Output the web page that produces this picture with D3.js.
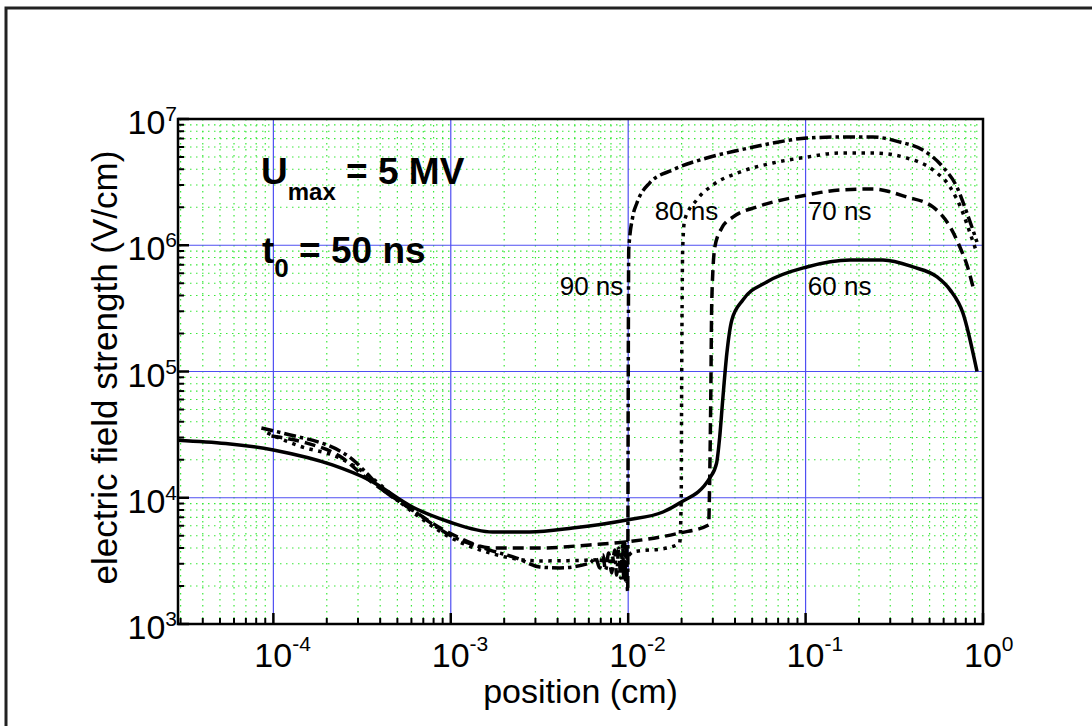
<!DOCTYPE html>
<html>
<head>
<meta charset="utf-8">
<script src="https://cdn.jsdelivr.net/npm/d3@7"></script>
<style>
  html, body { margin: 0; padding: 0; background: #fff; }
  svg { display: block; font-family: "Liberation Sans", Arial, sans-serif; }
</style>
</head>
<body>
<svg id="chart" width="1092" height="726"></svg>
<script>
// Electric field strength profiles along the gap, t0 = 50 ns, Umax = 5 MV

// 60 ns (solid)
const pos60 = [2.9e-5, 1e-4, 2.15e-4, 3.48e-4, 6.08e-4, 9.84e-4, 1.72e-3, 2.78e-3, 4.86e-3, 9.82e-3,
  1.57e-2, 1.95e-2, 2.88e-2, 3.15e-2, 3.28e-2, 3.41e-2, 3.60e-2, 3.84e-2, 4.43e-2, 6.04e-2,
  0.1016, 0.178, 0.273, 0.403, 0.551, 0.652, 0.771, 0.925];
const field60 = [2.86e4, 2.39e4, 1.82e4, 1.38e4, 8.45e3, 6.43e3, 5.36e3, 5.36e3, 5.75e3, 6.67e3,
  7.71e3, 9.08e3, 1.43e4, 1.88e4, 3.03e4, 5.94e4, 1.40e5, 2.56e5, 3.68e5, 5.12e5,
  6.73e5, 7.64e5, 7.64e5, 6.73e5, 5.61e5, 4.43e5, 2.90e5, 1.0e5];

// 70 ns (dashed)
const pos70 = [9.75e-5, 1.53e-4, 2.36e-4, 3.35e-4, 6.08e-4, 9.84e-4, 1.72e-3, 3.17e-3, 6.07e-3, 9.82e-3,
  1.95e-2, 2.84e-2, 2.88e-2, 2.92e-2, 2.96e-2, 3.08e-2, 3.37e-2, 3.89e-2, 5.31e-2, 0.102,
  0.156, 0.239, 0.372, 0.522, 0.652, 0.741, 0.812, 0.879];
const field70 = [3.08e4, 2.72e4, 2.14e4, 1.43e4, 8.0e3, 5.26e3, 4.0e3, 4.0e3, 4.23e3, 4.47e3,
  5.26e3, 6.08e3, 1.38e4, 5.94e4, 3.68e5, 9.68e5, 1.37e6, 1.67e6, 2.01e6, 2.50e6,
  2.74e6, 2.79e6, 2.41e6, 2.01e6, 1.40e6, 9.68e5, 6.98e5, 4.67e5];

// 80 ns (dotted)
const pos80 = [9.25e-5, 1.40e-4, 2.36e-4, 3.35e-4, 6.08e-4, 9.84e-4, 1.66e-3, 3.17e-3, 6.07e-3, 8.39e-3,
  9.93e-3, 1.06e-2, 1.65e-2, 1.95e-2, 1.99e-2, 2.00e-2, 2.03e-2, 2.08e-2, 2.43e-2, 3.00e-2,
  4.26e-2, 6.53e-2, 0.102, 0.156, 0.239, 0.372, 0.522, 0.652, 0.771, 0.845, 0.912];
const field80 = [3.26e4, 2.57e4, 2.07e4, 1.54e4, 7.71e3, 4.89e3, 3.65e3, 3.16e3, 3.21e3, 3.33e3,
  3.46e3, 3.72e3, 4.0e3, 4.38e3, 9.6e3, 5.94e4, 9.68e5, 1.58e6, 2.28e6, 3.0e6,
  3.8e6, 4.48e6, 5.0e6, 5.38e6, 5.38e6, 4.91e6, 3.95e6, 2.89e6, 1.80e6, 1.25e6, 9.17e5];

// 90 ns (dash-dot), including the oscillations just ahead of the front near 0.01 cm
const pos90 = [8.56e-5, 1.12e-4, 2.69e-4, 3.35e-4, 3.97e-4, 6.08e-4, 9.84e-4, 1.66e-3, 2.35e-3, 3.17e-3,
  4.11e-3, 6.07e-3, 6.56e-3, 6.91e-3, 7.18e-3, 7.46e-3, 7.76e-3, 8.07e-3, 8.39e-3, 8.61e-3,
  8.84e-3, 9.07e-3, 9.31e-3, 9.44e-3, 9.55e-3, 9.69e-3, 9.82e-3, 9.87e-3, 9.94e-3, 1.0e-2,
  1.007e-2, 1.06e-2, 1.12e-2, 1.32e-2, 1.78e-2, 2.77e-2, 4.26e-2, 6.53e-2, 0.1016, 0.156,
  0.239, 0.340, 0.458, 0.594, 0.713, 0.812, 0.925];
const field90 = [3.57e4, 3.26e4, 2.10e4, 1.57e4, 1.22e4, 8.0e3, 5.07e3, 3.85e3, 3.33e3, 2.83e3,
  2.78e3, 3.04e3, 3.33e3, 2.78e3, 3.53e3, 2.68e3, 3.65e3, 2.54e3, 3.85e3, 2.44e3,
  4.0e3, 2.31e3, 4.23e3, 2.23e3, 4.38e3, 2.11e3, 4.54e3, 2.0e3, 1.82e3, 5.94e4,
  9.17e5, 1.67e6, 2.16e6, 3.11e6, 3.95e6, 4.91e6, 5.68e6, 6.45e6, 7.07e6, 7.20e6,
  7.20e6, 6.57e6, 5.68e6, 4.17e6, 2.89e6, 1.80e6, 1.06e6];

const xTickExps = [-4, -3, -2, -1, 0];
const yTickExps = [3, 4, 5, 6, 7];

const svg = d3.select("#chart");
const plot = { left: 178, top: 119, right: 983, bottom: 624 };

const x = d3.scaleLog().domain([2.9e-5, 1]).range([plot.left, plot.right]);
const y = d3.scaleLog().domain([1e3, 1e7]).range([plot.bottom, plot.top]);

// outer frame (runs past the right and bottom edges)
svg.append("rect").attr("x", 6).attr("y", 8).attr("width", 1200).attr("height", 900)
  .attr("fill", "#fff").attr("stroke", "#222").attr("stroke-width", 3);

// 2..9 multiples inside the domain, for minor grid and ticks
function minors(scale) {
  const [a, b] = scale.domain();
  const out = [];
  for (let e = Math.floor(Math.log10(a)); e <= Math.ceil(Math.log10(b)); e++) {
    for (let k = 2; k <= 9; k++) {
      const v = k * Math.pow(10, e);
      if (v >= a && v <= b) out.push(v);
    }
  }
  return out;
}
const xMinor = minors(x), yMinor = minors(y);
const xMajor = xTickExps.map(e => Math.pow(10, e));
const yMajor = yTickExps.map(e => Math.pow(10, e));

const grid = svg.append("g");
const minorStyle = sel => sel.attr("stroke", "#3ae83a").attr("stroke-width", 1.2).attr("stroke-dasharray", "1.5,4.5");
grid.append("g").selectAll("line").data(xMinor).join("line")
  .attr("x1", d => x(d)).attr("x2", d => x(d)).attr("y1", plot.top).attr("y2", plot.bottom)
  .call(minorStyle);
grid.append("g").selectAll("line").data(yMinor).join("line")
  .attr("y1", d => y(d)).attr("y2", d => y(d)).attr("x1", plot.left).attr("x2", plot.right)
  .call(minorStyle);
grid.append("g").selectAll("line").data(xMajor.filter(v => v < 1)).join("line")
  .attr("x1", d => x(d)).attr("x2", d => x(d)).attr("y1", plot.top).attr("y2", plot.bottom)
  .attr("stroke", "#4f4ff2").attr("stroke-width", 1.2);
grid.append("g").selectAll("line").data(yMajor.filter(v => v > 1e3 && v < 1e7)).join("line")
  .attr("y1", d => y(d)).attr("y2", d => y(d)).attr("x1", plot.left).attr("x2", plot.right)
  .attr("stroke", "#4f4ff2").attr("stroke-width", 1.2);

// curves
const line = d3.line().x(d => x(d[0])).y(d => y(d[1])).curve(d3.curveMonotoneX);
const series = [
  { pos: pos60, field: field60, dash: null },
  { pos: pos70, field: field70, dash: "11,6" },
  { pos: pos80, field: field80, dash: "3.5,5.5" },
  { pos: pos90, field: field90, dash: "12,4,3.5,4" }
];
svg.append("g").selectAll("path").data(series).join("path")
  .attr("d", s => line(s.pos.map((p, i) => [p, s.field[i]])))
  .attr("fill", "none").attr("stroke", "#000").attr("stroke-width", 3.5)
  .attr("stroke-linejoin", "round")
  .attr("stroke-dasharray", s => s.dash);

// axes: ticks point inward
const ax = svg.append("g").attr("stroke", "#000");
ax.append("g").selectAll("line").data(xMinor).join("line")
  .attr("x1", d => x(d)).attr("x2", d => x(d)).attr("y1", plot.bottom).attr("y2", plot.bottom - 6)
  .attr("stroke-width", 2);
ax.append("g").selectAll("line").data(xMajor).join("line")
  .attr("x1", d => x(d)).attr("x2", d => x(d)).attr("y1", plot.bottom).attr("y2", plot.bottom - 11)
  .attr("stroke-width", 2.5);
ax.append("g").selectAll("line").data(yMinor).join("line")
  .attr("y1", d => y(d)).attr("y2", d => y(d)).attr("x1", plot.left).attr("x2", plot.left + 6)
  .attr("stroke-width", 2);
ax.append("g").selectAll("line").data(yMajor).join("line")
  .attr("y1", d => y(d)).attr("y2", d => y(d)).attr("x1", plot.left).attr("x2", plot.left + 11)
  .attr("stroke-width", 2.5);
svg.append("rect").attr("x", plot.left).attr("y", plot.top)
  .attr("width", plot.right - plot.left).attr("height", plot.bottom - plot.top)
  .attr("fill", "none").attr("stroke", "#000").attr("stroke-width", 2.5);

// tick labels: 10 with a raised exponent
const tl = svg.append("g").attr("font-size", 34).attr("fill", "#000");
xTickExps.forEach(e => {
  const t = tl.append("text").attr("x", x(Math.pow(10, e)) - 19).attr("y", 667);
  t.append("tspan").text("10");
  t.append("tspan").attr("font-size", 21).attr("dy", -16).text(String(e));
});
yTickExps.forEach(e => {
  const t = tl.append("text").attr("x", plot.left - 1).attr("y", y(Math.pow(10, e)) + 15)
    .attr("text-anchor", "end");
  t.append("tspan").text("10");
  t.append("tspan").attr("font-size", 21).attr("dy", -13).text(String(e));
});

// axis titles
svg.append("text").attr("x", (plot.left + plot.right) / 2).attr("y", 703)
  .attr("text-anchor", "middle").attr("font-size", 34).text("position (cm)");
svg.append("text").attr("transform", `translate(117,${(plot.top + plot.bottom) / 2 - 4}) rotate(-90)`)
  .attr("text-anchor", "middle").attr("font-size", 35).text("electric field strength (V/cm)");

// parameter annotations
const ann = svg.append("g").attr("font-weight", "bold").attr("font-size", 37);
const u = ann.append("text").attr("x", 261).attr("y", 184);
u.append("tspan").text("U");
u.append("tspan").attr("font-size", 24).attr("dy", 16).text("max");
u.append("tspan").attr("dy", -16).text(" = 5 MV");
const t0 = ann.append("text").attr("x", 262).attr("y", 263);
t0.append("tspan").text("t");
t0.append("tspan").attr("font-size", 26).attr("dy", 14).text("0");
t0.append("tspan").attr("dy", -14).text(" = 50 ns");

// curve labels, placed in data coordinates
const curveLabels = [
  { name: "90 ns", px: 4.11e-3, fy: 4.03e5 },
  { name: "80 ns", px: 1.41e-2, fy: 1.58e6 },
  { name: "70 ns", px: 0.103, fy: 1.58e6 },
  { name: "60 ns", px: 0.103, fy: 4.03e5 }
];
svg.append("g").attr("font-size", 26).selectAll("text").data(curveLabels).join("text")
  .attr("x", d => x(d.px)).attr("y", d => y(d.fy))
  .text(d => d.name);
</script>
</body>
</html>
